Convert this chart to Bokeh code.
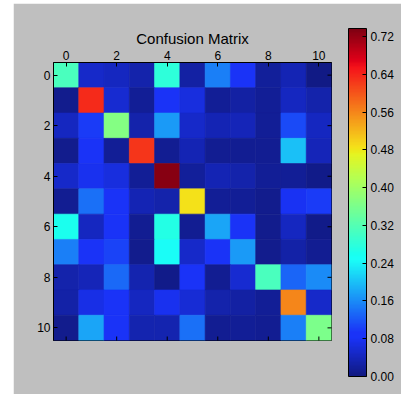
import numpy as np
from bokeh.plotting import figure
from bokeh.models import (ColumnDataSource, LinearColorMapper, ColorBar, FixedTicker,
                          Range1d, PrintfTickFormatter)
from bokeh.embed import file_html
from bokeh.resources import INLINE

# ---------------- data ----------------
classes = list(range(11))
title_text = "Confusion Matrix"
row0 = [0.31, 0.050, 0.045, 0.030, 0.280, 0.025, 0.150, 0.090, 0.020, 0.035, 0.005]
row1 = [0.010, 0.635, 0.055, 0.015, 0.085, 0.065, 0.015, 0.025, 0.015, 0.045, 0.030]
row2 = [0.045, 0.100, 0.370, 0.030, 0.170, 0.050, 0.035, 0.040, 0.015, 0.110, 0.045]
row3 = [0.010, 0.085, 0.015, 0.625, 0.012, 0.035, 0.012, 0.013, 0.013, 0.200, 0.040]
row4 = [0.050, 0.075, 0.065, 0.015, 0.730, 0.020, 0.037, 0.030, 0.015, 0.015, 0.008]
row5 = [0.013, 0.140, 0.090, 0.035, 0.030, 0.485, 0.015, 0.015, 0.010, 0.080, 0.100]
row6 = [0.260, 0.045, 0.085, 0.012, 0.270, 0.012, 0.180, 0.085, 0.010, 0.045, 0.008]
row7 = [0.150, 0.095, 0.105, 0.010, 0.245, 0.050, 0.090, 0.170, 0.010, 0.028, 0.013]
row8 = [0.030, 0.040, 0.135, 0.033, 0.008, 0.085, 0.012, 0.055, 0.310, 0.130, 0.160]
row9 = [0.028, 0.070, 0.090, 0.045, 0.075, 0.060, 0.030, 0.025, 0.015, 0.560, 0.050]
row10 = [0.010, 0.180, 0.090, 0.033, 0.033, 0.140, 0.012, 0.015, 0.013, 0.150, 0.360]
matrix = [row0, row1, row2, row3, row4, row5, row6, row7, row8, row9, row10]
color_min = 0.0
color_max = 0.737
axis_ticks = [0, 2, 4, 6, 8, 10]
cbar_ticks = [0.00, 0.08, 0.16, 0.24, 0.32, 0.40, 0.48, 0.56, 0.64, 0.72]

# ---------------- jet colormap (with a slight display tint) ----------------
def jet_palette(n=256):
    t = np.linspace(0, 1, n)
    r = np.interp(t, [0, 0.35, 0.66, 0.89, 1], [0, 0, 1, 1, 0.5])
    g = np.interp(t, [0, 0.125, 0.375, 0.64, 0.91, 1], [0, 0, 1, 1, 0, 0])
    b = np.interp(t, [0, 0.11, 0.34, 0.65, 1], [0.5, 1, 1, 0, 0])
    r2 = np.clip(0.93 * r + 0.07 * b + 0.03, 0, 1)
    g2 = np.clip(0.95 * g + 0.20 * b, 0, 1)
    b2 = np.clip(0.93 * b + 0.06 * r + 0.04, 0, 1)
    return ["#%02x%02x%02x" % (int(round(rr * 255)), int(round(gg * 255)), int(round(bb * 255)))
            for rr, gg, bb in zip(r2, g2, b2)]

palette = jet_palette()
mapper = LinearColorMapper(palette=palette, low=color_min, high=color_max)

xs, ys, vs = [], [], []
for i, row in enumerate(matrix):
    for j, v in enumerate(row):
        xs.append(classes[j])
        ys.append(classes[i])
        vs.append(v)
src = ColumnDataSource(dict(x=xs, y=ys, v=vs))

FONT = "Liberation Sans"
GRAY = "#bfbfbf"

x_lo, x_hi = classes[0] - 0.5, classes[-1] + 0.5
y_lo, y_hi = classes[0] - 0.5, classes[-1] + 0.5

p = figure(width=388, height=391, output_backend="svg", toolbar_location=None,
           x_range=Range1d(x_lo, x_hi), y_range=Range1d(y_hi, y_lo),
           x_axis_location="above",
           min_border_left=40, min_border_right=70, min_border_top=59, min_border_bottom=54)
p.styles = {"margin-left": "13px", "margin-top": "3px"}
p.border_fill_color = GRAY
p.background_fill_color = GRAY
p.outline_line_color = "black"
p.outline_line_width = 1
p.grid.visible = False

p.rect(x="x", y="y", width=1, height=1, source=src,
       fill_color={"field": "v", "transform": mapper},
       line_color={"field": "v", "transform": mapper}, line_width=0.6)

# inward tick marks on the bottom and right edges
p.scatter(x=axis_ticks, y=[y_hi] * len(axis_ticks), marker="dash", angle=np.pi / 2,
          size=8, line_color="black", line_width=1)
p.scatter(x=[x_hi] * len(axis_ticks), y=axis_ticks, marker="dash",
          size=8, line_color="black", line_width=1)

p.title.text = title_text
p.title.align = "center"
p.title.text_font = FONT
p.title.text_font_size = "15px"
p.title.text_font_style = "normal"
p.title.text_color = "black"
p.title.standoff = 2

def style_axis(ax):
    ax.ticker = FixedTicker(ticks=axis_ticks)
    ax.major_tick_in = 4
    ax.major_tick_out = 0
    ax.minor_tick_line_color = None
    ax.axis_line_color = "black"
    ax.major_tick_line_color = "black"
    ax.major_label_text_font = FONT
    ax.major_label_text_font_size = "12px"
    ax.major_label_text_color = "black"
    ax.major_label_standoff = 3

style_axis(p.xaxis[0])
style_axis(p.yaxis[0])

cb = ColorBar(color_mapper=mapper, ticker=FixedTicker(ticks=cbar_ticks),
              formatter=PrintfTickFormatter(format="%.2f"),
              width=18, height=348, location=(295, -36), padding=0, margin=0,
              background_fill_alpha=0, border_line_color=None,
              bar_line_color="black", bar_line_width=1,
              major_tick_in=4, major_tick_out=0, major_tick_line_color="black",
              minor_tick_line_color=None,
              major_label_text_font=FONT, major_label_text_font_size="12px",
              major_label_text_color="black", label_standoff=4)
p.add_layout(cb, "center")

open("out.html", "w").write(file_html(p, INLINE))
